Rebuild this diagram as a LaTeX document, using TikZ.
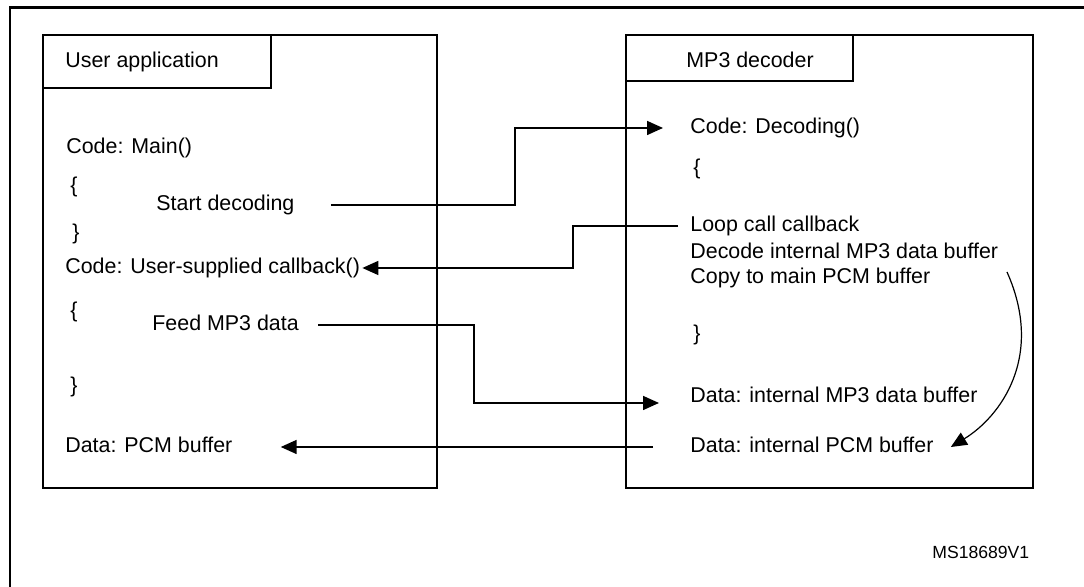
\documentclass[tikz,border=0pt]{standalone}
\usepackage{fontspec}
\setmainfont{Liberation Sans}
\usetikzlibrary{positioning, arrows.meta}

\begin{document}
\begin{tikzpicture}[x=0.5pt, y=0.5pt]

	\tikzstyle{frame}=[line width=1.4pt, black]
	\tikzstyle{box}=[draw, line width=1pt, rectangle, inner sep=0pt]
	\tikzstyle{tab}=[draw, line width=1pt, rectangle, inner sep=0pt, anchor=north west]
	\tikzstyle{txt}=[anchor=west, inner sep=0pt, text height=7.8pt, text depth=2.2pt, font=\fontsize{10.7}{12.8}\selectfont]
	\tikzstyle{arc}=[-{Triangle[length=8pt, width=7pt]}, line width=0.8pt]
	\tikzstyle{arc2}=[-{Triangle[length=8pt, width=7pt]}, line width=0.6pt]

	\useasboundingbox (0,0) rectangle (1084,587);
	\clip (0,0) rectangle (1084,587);
	\draw[frame] (10,-10) -- (10,579.5) -- (1100,579.5);

	% les deux blocs
	\node[box, minimum width=197pt, minimum height=226.5pt] (app) at (240,325.5) {};
	\node[tab, minimum width=114pt, minimum height=26.5pt] (apptab) at (app.north west) {};
	\node[txt, right=11.5pt of apptab.west] (appname) {User application};
	\node[box, minimum width=203.5pt, minimum height=226.5pt] (mp3) at (829.5,325.5) {};
	\node[tab, minimum width=113.5pt, minimum height=23pt] (mp3tab) at (mp3.north west) {};
	\node[txt, right=30.5pt of mp3tab.west, yshift=-2pt] (mp3name) {MP3 decoder};

	% textes du bloc utilisateur
	\node[txt] (main) at (66,439) {Code: Main()};
	\node[txt] (lb1) at (70,400) {\{};
	\node[txt] (start) at (156,382) {Start decoding};
	\node[txt] (rb1) at (72,353) {\}};
	\node[txt] (cb) at (65,319) {Code: User-supplied callback()};
	\node[txt] (lb2) at (70,275) {\{};
	\node[txt] (feed) at (152,262) {Feed MP3 data};
	\node[txt] (rb2) at (70,200) {\}};
	\node[txt] (pcm) at (65,140) {Data: PCM buffer};

	% textes du decodeur
	\node[txt] (decoding) at (690,459) {Code: Decoding()};
	\node[txt] (lb3) at (693,418) {\{};
	\node[txt] (loop) at (690,361) {Loop call callback};
	\node[txt] (decode) at (690,334) {Decode internal MP3 data buffer};
	\node[txt] (copy) at (690,309) {Copy to main PCM buffer};
	\node[txt] (rb3) at (693,252) {\}};
	\node[txt] (mp3buf) at (690,190) {Data: internal MP3 data buffer};
	\node[txt] (pcmbuf) at (690,140) {Data: internal PCM buffer};

	\node[txt, font=\fontsize{8.8}{10.5}\selectfont] (ref) at (932,34) {MS18689V1};

	% points de coude
	\coordinate (x1) at (515,0);
	\coordinate (x2) at (573,0);
	\coordinate (x3) at (474,0);
	\coordinate (mp3in) at ([yshift=-3pt]mp3buf.west);
	\coordinate (c0) at (1007,315);
	\coordinate (c1) at ([xshift=8.5pt]pcmbuf.east);

	\draw[arc, shorten <=18pt, shorten >=13.5pt] (start.east) -| (x1 |- decoding.west) -- (decoding.west);
	\draw[arc, shorten <=6pt, shorten >=1pt] (loop.west) -| (x2 |- cb.east) -- (cb.east);
	\draw[arc, shorten <=9.5pt, shorten >=15.5pt] (feed.east) -| (x3 |- mp3in) -- (mp3in);
	\draw[arc, shorten <=18.5pt, shorten >=24pt] (pcmbuf.west) -- (pcm.east);
	\draw[arc2] (c0) .. controls (1045,230) and (1000,170) .. (c1);

\end{tikzpicture}
\end{document}
